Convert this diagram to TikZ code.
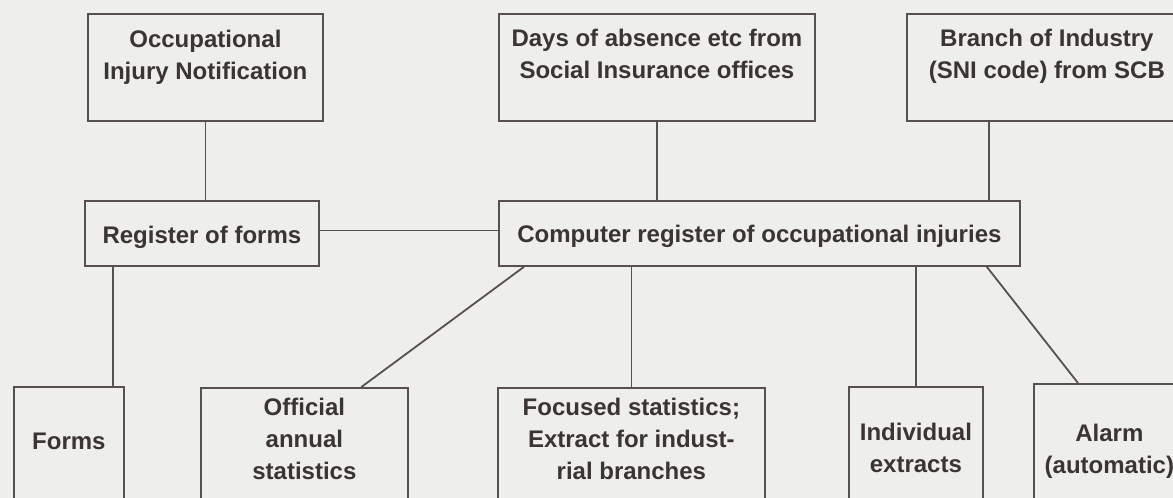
\documentclass[tikz,border=0pt]{standalone}
\usepackage{fontspec}
\setmainfont{Liberation Sans}
\usepackage{tikz}
\definecolor{scanBg}{HTML}{EEEEEC}
\definecolor{scanInk}{HTML}{3A3434}
\definecolor{scanLine}{HTML}{585050}
\tikzset{
  box/.style={rectangle,draw=scanLine,line width=1.8pt,fill=scanBg,inner sep=0pt,
    anchor=north west,align=center,text=scanInk,font=\fontsize{24}{32}\selectfont\bfseries},
  link/.style={draw=scanLine,line width=1.8pt}
}

\begin{document}
\begin{tikzpicture}[x=1pt,y=-1pt]
\useasboundingbox (0,0) rectangle (1173,498);
\fill[scanBg] (0,0) rectangle (1173,498);
\clip (0,0) rectangle (1173,498);
% sources
\node[box, minimum width=235pt, text height=65.5pt, text depth=41.5pt] (notif) at (87,13) {Occupational\\Injury Notification};
\node[box, minimum width=316pt, text height=65pt, text depth=42pt] (days) at (498,13) {Days of absence etc from\\Social Insurance offices};
\node[box, minimum width=280pt, text height=65pt, text depth=42pt] (sni) at (906,13) {Branch of Industry\\(SNI code) from SCB};
% registers
\node[box, minimum width=234pt, text height=42.5pt, text depth=22.5pt] (regf) at (84,200) {Register of forms};
\node[box, minimum width=521pt, text height=42pt, text depth=23pt] (comp) at (498,200) {Computer register of occupational injuries};
% outputs
\node[box, minimum width=110pt, text height=63pt, text depth=71pt] (forms) at (13,386) {Forms};
\node[box, minimum width=207pt, text height=92pt, text depth=41pt] (annual) at (200,387) {Official\\annual\\statistics};
\node[box, minimum width=267pt, text height=92pt, text depth=41pt] (focus) at (497,387) {Focused statistics;\\Extract for indust-\\rial branches};
\node[box, minimum width=134pt, text height=86pt, text depth=48pt] (indiv) at (848,386) {Individual\\extracts};
\node[box, minimum width=151pt, text height=90pt, text depth=47pt] (alarm) at (1033,383) {Alarm\\(automatic)};

\draw[link] (notif.south) -- (notif.south |- regf.north);
\draw[link] (days.south) -- (days.south |- comp.north);
\draw[link] ([xshift=83pt]sni.south west) -- ([xshift=83pt]sni.south west |- comp.north);
\draw[link] ([yshift=3pt]regf.east) -- ([yshift=3pt]regf.east -| comp.west);
\draw[link] ([xshift=29pt]regf.south west) -- ([xshift=29pt]regf.south west |- forms.north);
\draw[link] ([xshift=26pt]comp.south west) -- ([xshift=57pt]annual.north);
\draw[link] (focus.north) -- (focus.north |- comp.south);
\draw[link] (indiv.north) -- (indiv.north |- comp.south);
\draw[link] ([xshift=-34pt]comp.south east) -- ([xshift=45pt]alarm.north west);
\end{tikzpicture}
\end{document}
